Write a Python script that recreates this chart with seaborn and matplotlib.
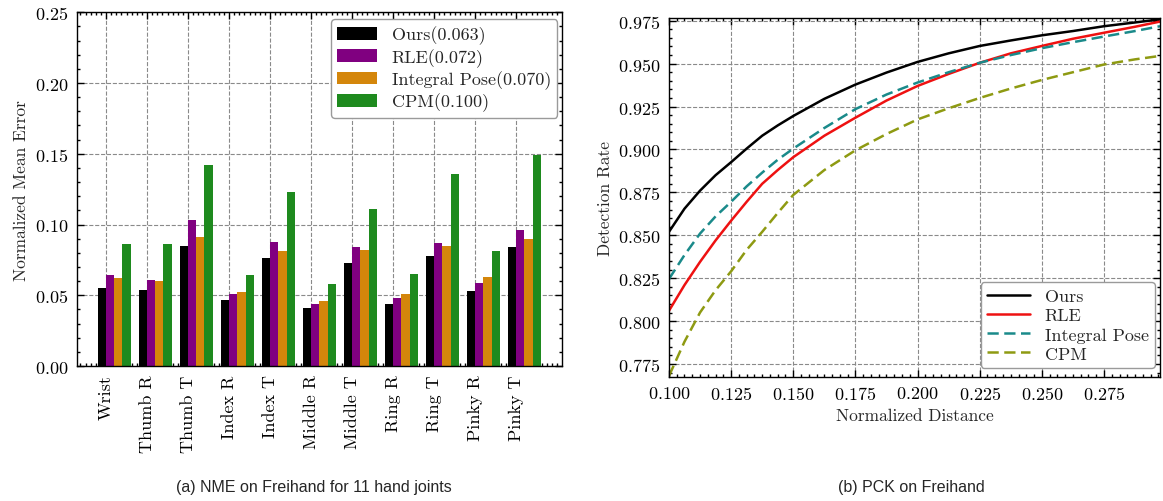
import matplotlib
matplotlib.use("Agg")
import matplotlib.pyplot as plt
from matplotlib.ticker import AutoMinorLocator, MultipleLocator
import seaborn as sns
import numpy as np
import pandas as pd

# ---- data: NME per hand joint (panel a) ----
joints = ["Wrist", "Thumb R", "Thumb T", "Index R", "Index T", "Middle R",
          "Middle T", "Ring R", "Ring T", "Pinky R", "Pinky T"]
methods = ["Ours", "RLE", "Integral Pose", "CPM"]
nme_ours = [0.055, 0.054, 0.085, 0.047, 0.076, 0.041, 0.073, 0.044, 0.078, 0.053, 0.084]
nme_rle = [0.064, 0.061, 0.103, 0.051, 0.088, 0.044, 0.084, 0.048, 0.087, 0.059, 0.096]
nme_integral = [0.062, 0.060, 0.091, 0.052, 0.081, 0.046, 0.082, 0.051, 0.085, 0.063, 0.090]
nme_cpm = [0.086, 0.086, 0.142, 0.064, 0.123, 0.058, 0.111, 0.065, 0.136, 0.081, 0.149]
bar_legend = ["Ours(0.063)", "RLE(0.072)", "Integral Pose(0.070)", "CPM(0.100)"]
bar_colors = ["#000000", "#800080", "#D4860B", "#1E8A1E"]

# ---- data: PCK curves (panel b) ----
pck_dist = [0.100, 0.10625, 0.1125, 0.11875, 0.125, 0.13125, 0.1375, 0.14375, 0.150,
            0.1625, 0.175, 0.1875, 0.200, 0.2125, 0.225, 0.2375, 0.250, 0.2625,
            0.275, 0.2875, 0.2975]
pck_ours = [0.852, 0.8655, 0.876, 0.885, 0.8926, 0.9005, 0.908, 0.914, 0.9195,
            0.9295, 0.9378, 0.9448, 0.951, 0.956, 0.9603, 0.9635, 0.9665, 0.969,
            0.9718, 0.974, 0.9758]
pck_rle = [0.806, 0.821, 0.8345, 0.847, 0.8585, 0.8695, 0.880, 0.888, 0.8955,
           0.908, 0.9185, 0.9285, 0.937, 0.944, 0.9505, 0.956, 0.9603, 0.9645,
           0.968, 0.9715, 0.9745]
pck_integral = [0.8245, 0.8385, 0.851, 0.861, 0.8695, 0.8785, 0.8865, 0.894, 0.9005,
                0.9125, 0.9235, 0.932, 0.939, 0.945, 0.9505, 0.955, 0.959, 0.9625,
                0.9658, 0.969, 0.9718]
pck_cpm = [0.768, 0.788, 0.805, 0.818, 0.829, 0.8415, 0.852, 0.863, 0.8735,
           0.888, 0.8995, 0.909, 0.9175, 0.924, 0.930, 0.9355, 0.9405, 0.945,
           0.9495, 0.9525, 0.9545]
line_colors = ["#000000", "#EE1111", "#1A8A8A", "#8E9A12"]

# ---- style ----
sns.set_style("ticks")
plt.rcParams["font.family"] = ["cmr10", "DejaVu Serif"]
plt.rcParams["mathtext.fontset"] = "cm"
plt.rcParams["axes.formatter.use_mathtext"] = True
plt.rcParams["axes.unicode_minus"] = False
plt.rcParams["axes.linewidth"] = 1.0
plt.rcParams["axes.edgecolor"] = "black"


def style_axes(ax, xminor, yminor):
    ax.grid(True, which="major", linestyle="--", color="#8a8a8a", linewidth=0.8)
    ax.set_axisbelow(True)
    ax.xaxis.set_minor_locator(AutoMinorLocator(xminor))
    ax.yaxis.set_minor_locator(AutoMinorLocator(yminor))
    ax.tick_params(which="both", direction="in", top=True, right=True,
                   colors="black", labelsize=13, width=1)
    ax.tick_params(which="major", length=5, pad=6)
    ax.tick_params(which="minor", length=2.5)
    for s in ax.spines.values():
        s.set_visible(True)
        s.set_color("black")


fig = plt.figure(figsize=(11.63, 5.02), dpi=100)

# ---- (a) bar chart ----
ax1 = fig.add_axes([0.0660, 0.2689, 0.4173, 0.7046])
df_nme = pd.DataFrame({
    "joint": joints * 4,
    "method": np.repeat(methods, len(joints)),
    "nme": nme_ours + nme_rle + nme_integral + nme_cpm,
})
sns.barplot(data=df_nme, x="joint", y="nme", hue="method", hue_order=methods,
            palette=bar_colors, saturation=1, width=0.8, linewidth=0,
            errorbar=None, legend=False, ax=ax1)
ax1.set_xticks(np.arange(len(joints)) - 0.2)
ax1.set_xticklabels(joints, rotation=90)
ax1.set_xlim(-0.915, 10.92)
ax1.set_ylim(0, 0.25)
ax1.yaxis.set_major_locator(MultipleLocator(0.05))
ax1.set_xlabel("")
ax1.set_ylabel("Normalized Mean Error", fontsize=12.5)
style_axes(ax1, 8, 5)
ax1.legend(ax1.containers, bar_legend, loc="upper right", bbox_to_anchor=(0.99, 0.98),
           borderaxespad=0, fontsize=13, frameon=True, framealpha=1,
           edgecolor="#9a9a9a", fancybox=True, handlelength=2.2, labelspacing=0.2,
           borderpad=0.35)

# ---- (b) PCK curves ----
ax2 = fig.add_axes([0.5752, 0.2476, 0.4222, 0.7139])
df_pck = pd.DataFrame({
    "dist": pck_dist * 4,
    "method": np.repeat(methods, len(pck_dist)),
    "rate": pck_ours + pck_rle + pck_integral + pck_cpm,
})
sns.lineplot(data=df_pck, x="dist", y="rate", hue="method", style="method",
             hue_order=methods, style_order=methods, palette=line_colors,
             dashes={"Ours": "", "RLE": "", "Integral Pose": (4.5, 2.2), "CPM": (4.5, 2.2)},
             linewidth=1.8, errorbar=None, legend=False, ax=ax2)
ax2.set_xlim(0.1, 0.2975)
ax2.set_ylim(0.7676, 0.9764)
ax2.xaxis.set_major_locator(MultipleLocator(0.025))
ax2.yaxis.set_major_locator(MultipleLocator(0.025))
ax2.set_xlabel("Normalized Distance", fontsize=12.5)
ax2.set_ylabel("Detection Rate", fontsize=12.5)
style_axes(ax2, 8, 5)
ax2.legend(ax2.lines[:4], methods, loc="lower right", bbox_to_anchor=(0.99, 0.024),
           borderaxespad=0, fontsize=13, frameon=True, framealpha=1,
           edgecolor="#9a9a9a", fancybox=True, handlelength=2.4, labelspacing=0.2,
           borderpad=0.35)

# ---- captions ----
fig.text(0.27, 0.028, "(a) NME on Freihand for 11 hand joints", ha="center", va="center",
         fontsize=11.5, family=["Liberation Sans", "DejaVu Sans"])
fig.text(0.784, 0.028, "(b) PCK on Freihand", ha="center", va="center",
         fontsize=11.5, family=["Liberation Sans", "DejaVu Sans"])

fig.savefig("out.png", dpi=100)
